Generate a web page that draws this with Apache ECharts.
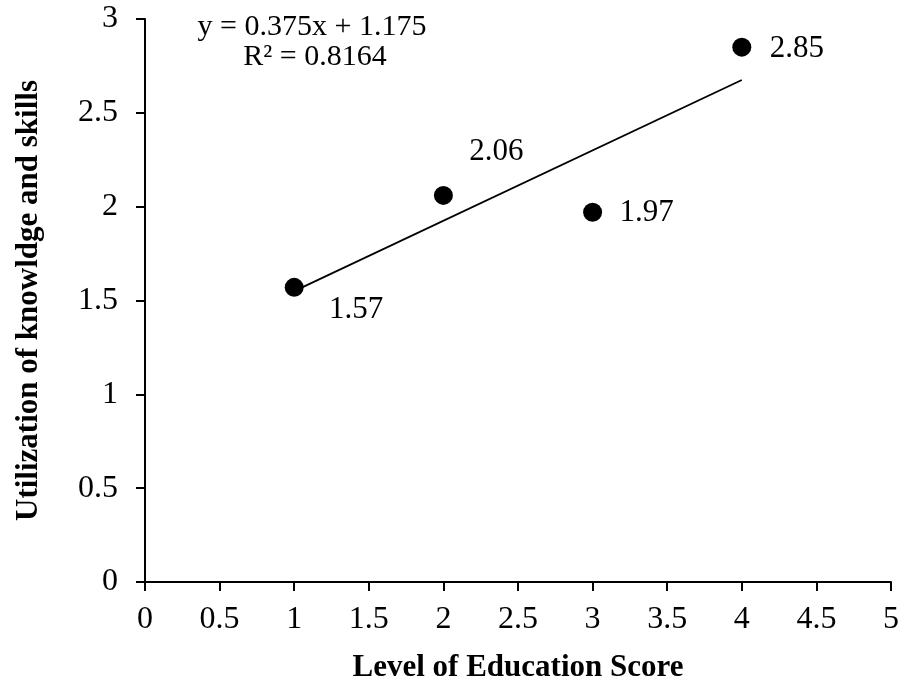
<!DOCTYPE html>
<html>
<head>
<meta charset="utf-8">
<script src="https://cdn.jsdelivr.net/npm/echarts@6/dist/echarts.min.js"></script>
<style>
  html, body { margin: 0; padding: 0; background: #fff; }
  #chart { width: 904px; height: 683px; }
</style>
</head>
<body>
<div id="chart"></div>
<script>
// Education score vs. utilization scores
const educationScores = [1, 2, 3, 4];
const utilizationScores = [1.57, 2.06, 1.97, 2.85];

// Linear trend fit reported on the chart
const trendSlope = 0.375;
const trendIntercept = 1.175;
const rSquared = 0.8164;

// Label offsets (px) for each point's value label
const labelOffsets = [[62, 22], [53, -44], [54, 1], [55, 2]];

const serif = '"Liberation Serif", "Times New Roman", serif';

const points = educationScores.map((x, i) => ({
  value: [x, utilizationScores[i]],
  label: { offset: labelOffsets[i] }
}));

const xFirst = educationScores[0];
const xLast = educationScores[educationScores.length - 1];
const trendData = [
  [xFirst, trendSlope * xFirst + trendIntercept],
  [xLast, trendSlope * xLast + trendIntercept]
];

const chart = echarts.init(document.getElementById('chart'), null, { renderer: 'canvas' });

chart.setOption({
  animation: false,
  backgroundColor: '#ffffff',
  grid: {
    left: 145, right: 13, top: 19, bottom: 101,
    containLabel: false,
    outerBoundsMode: 'none'
  },
  xAxis: {
    type: 'value',
    min: 0, max: 5, interval: 0.5,
    name: 'Level of Education Score',
    nameLocation: 'middle',
    nameGap: 70,
    nameTextStyle: { fontFamily: serif, fontSize: 31, fontWeight: 'bold', color: '#000' },
    axisLine: { show: true, onZero: false, lineStyle: { color: '#000', width: 2 } },
    axisTick: { show: true, inside: false, length: 9, lineStyle: { color: '#000', width: 2 } },
    axisLabel: { fontFamily: serif, fontSize: 32, color: '#000', margin: 22 },
    splitLine: { show: false }
  },
  yAxis: {
    type: 'value',
    min: 0, max: 3, interval: 0.5,
    name: 'Utilization of knowldge and skills',
    nameLocation: 'middle',
    nameGap: 101,
    nameTextStyle: { fontFamily: serif, fontSize: 31, fontWeight: 'bold', color: '#000' },
    axisLine: { show: true, onZero: false, lineStyle: { color: '#000', width: 2 } },
    axisTick: { show: true, inside: false, length: 9, lineStyle: { color: '#000', width: 2 } },
    axisLabel: { fontFamily: serif, fontSize: 32, color: '#000', margin: 27 },
    splitLine: { show: false }
  },
  graphic: [
    {
      type: 'text',
      x: 312, y: 27,
      style: {
        text: 'y = ' + trendSlope + 'x + ' + trendIntercept,
        fontFamily: serif, fontSize: 30, fill: '#000',
        textAlign: 'center', textVerticalAlign: 'middle'
      }
    },
    {
      type: 'text',
      x: 315, y: 57,
      style: {
        text: 'R\u00b2 = ' + rSquared.toFixed(4),
        fontFamily: serif, fontSize: 30, fill: '#000',
        textAlign: 'center', textVerticalAlign: 'middle'
      }
    }
  ],
  series: [
    {
      type: 'line',
      data: trendData,
      symbol: 'none',
      lineStyle: { color: '#000', width: 1.8 },
      silent: true,
      z: 1
    },
    {
      type: 'scatter',
      data: points,
      symbol: 'circle',
      symbolSize: 19,
      itemStyle: { color: '#000', opacity: 1 },
      label: {
        show: true,
        position: ['50%', '50%'],
        align: 'center',
        verticalAlign: 'middle',
        fontFamily: serif,
        fontSize: 31,
        color: '#000',
        formatter: p => p.value[1].toFixed(2)
      },
      z: 2
    }
  ]
});
</script>
</body>
</html>
